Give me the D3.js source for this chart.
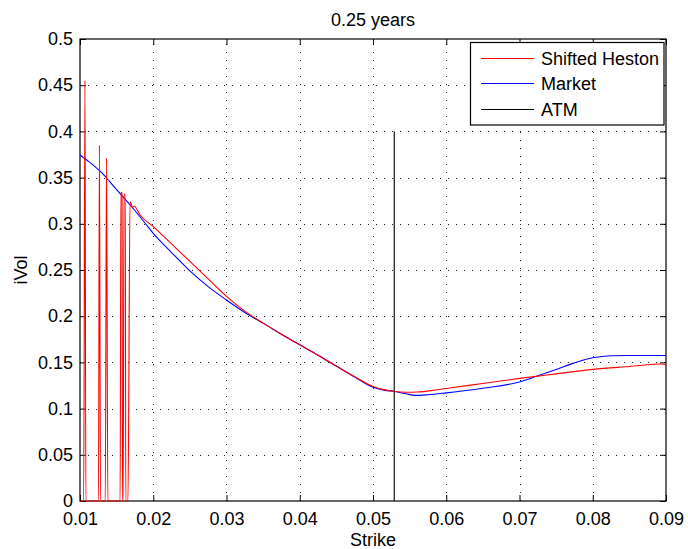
<!DOCTYPE html>
<html><head><meta charset="utf-8">
<script src="https://cdn.jsdelivr.net/npm/d3@7"></script>
<style>
body{margin:0;background:#fff}
svg{display:block}
text{font-family:"Liberation Sans",Arial,Helvetica,sans-serif}
</style>
</head><body>
<svg id="chart" width="688" height="549"></svg>
<script>
const titleText = "0.25 years";
const xLabelText = "Strike";
const yLabelText = "iVol";
const seriesNames = ["Shifted Heston", "Market", "ATM"];
const seriesColors = ["#ff0000", "#0000ff", "#000000"];

const xTicks = [0.01, 0.02, 0.03, 0.04, 0.05, 0.06, 0.07, 0.08, 0.09];
const xTickLabels = ["0.01", "0.02", "0.03", "0.04", "0.05", "0.06", "0.07", "0.08", "0.09"];
const yTicks = [0, 0.05, 0.1, 0.15, 0.2, 0.25, 0.3, 0.35, 0.4, 0.45, 0.5];
const yTickLabels = ["0", "0.05", "0.1", "0.15", "0.2", "0.25", "0.3", "0.35", "0.4", "0.45", "0.5"];

const hestonStrike = [0.0100, 0.0105, 0.01068, 0.0108, 0.01252, 0.01265, 0.0128, 0.01345, 0.01362, 0.0138,
  0.01548, 0.01558, 0.01574, 0.0158, 0.0159, 0.0160, 0.01618, 0.01625, 0.01655, 0.01683,
  0.01719, 0.01741, 0.0182, 0.0200, 0.0225, 0.0250, 0.0275, 0.0300, 0.0325, 0.0350,
  0.0375, 0.0400, 0.0425, 0.0450, 0.0475, 0.0500, 0.0515, 0.0530, 0.0545, 0.0560,
  0.0580, 0.0600, 0.0650, 0.0700, 0.0750, 0.0800, 0.0850, 0.0895, 0.0900];
const hestonVol = [0, 0, 0.455, 0, 0, 0.385, 0, 0, 0.371, 0,
  0, 0.334, 0.333, 0, 0, 0.332, 0.332, 0, 0, 0.324,
  0.318, 0.319, 0.3095, 0.297, 0.2782, 0.2593, 0.2405, 0.2215, 0.2055, 0.1925,
  0.1805, 0.1690, 0.1578, 0.1460, 0.1345, 0.1240, 0.1205, 0.1185, 0.1177, 0.1180,
  0.1195, 0.1218, 0.1272, 0.1327, 0.1376, 0.1424, 0.1455, 0.1482, 0.1465];

const marketStrike = [0.0100, 0.0110, 0.0120, 0.0130, 0.0140, 0.0150, 0.0160, 0.0170, 0.0180, 0.0190,
  0.0200, 0.0225, 0.0250, 0.0275, 0.0300, 0.0325, 0.0350, 0.0375, 0.0400, 0.0425,
  0.0450, 0.0475, 0.0500, 0.0515, 0.0530, 0.0545, 0.0558, 0.0575, 0.0600, 0.0650,
  0.0700, 0.0725, 0.0750, 0.0775, 0.0800, 0.0825, 0.0850, 0.0900];
const marketVol = [0.3745, 0.3685, 0.3622, 0.3550, 0.3462, 0.3370, 0.3280, 0.3190, 0.3095, 0.2995,
  0.2897, 0.2689, 0.2490, 0.2320, 0.2175, 0.2040, 0.1925, 0.1805, 0.1690, 0.1578,
  0.1460, 0.1342, 0.1232, 0.1200, 0.1185, 0.1160, 0.1143, 0.1150, 0.1170, 0.1220,
  0.1288, 0.1355, 0.1424, 0.1495, 0.1550, 0.1572, 0.1575, 0.1575];

const atmStrike = [0.0529, 0.0529];
const atmVol = [0, 0.4];

const W = 688, H = 549;
const plot = {left: 80, right: 666, top: 39, bottom: 501};

const svg = d3.select("#chart");
svg.append("rect").attr("width", W).attr("height", H).attr("fill", "#fff");

const x = d3.scaleLinear().domain([0.01, 0.09]).range([plot.left, plot.right]);
const y = d3.scaleLinear().domain([0, 0.5]).range([plot.bottom, plot.top]);

// grid
const grid = svg.append("g").attr("stroke", "#222").attr("stroke-width", 1).attr("stroke-dasharray", "1,7");
grid.selectAll("line.gx").data(xTicks.slice(1, -1)).enter().append("line")
  .attr("x1", d => Math.round(x(d)) + 0.5).attr("x2", d => Math.round(x(d)) + 0.5)
  .attr("y1", plot.bottom).attr("y2", plot.top);
grid.selectAll("line.gy").data(yTicks.slice(1, -1)).enter().append("line")
  .attr("y1", d => Math.round(y(d)) + 0.5).attr("y2", d => Math.round(y(d)) + 0.5)
  .attr("x1", plot.left).attr("x2", plot.right);

// axes
const fmtX = (d) => xTickLabels[xTicks.indexOf(d)];
const fmtY = (d) => yTickLabels[yTicks.indexOf(d)];

function styleAxis(g) {
  g.select(".domain").remove();
  g.selectAll(".tick line").attr("stroke", "#000").attr("stroke-width", 1);
  g.selectAll(".tick text").attr("fill", "#000").attr("font-size", 18)
    .attr("font-family", "'Liberation Sans', Arial, sans-serif");
}

svg.append("g").attr("transform", `translate(0,${plot.bottom})`)
  .call(d3.axisBottom(x).tickValues(xTicks).tickFormat(fmtX).tickSizeInner(-6).tickSizeOuter(0).tickPadding(11))
  .call(styleAxis);
svg.append("g").attr("transform", `translate(0,${plot.top})`)
  .call(d3.axisTop(x).tickValues(xTicks).tickFormat("").tickSizeInner(-6).tickSizeOuter(0))
  .call(styleAxis);
svg.append("g").attr("transform", `translate(${plot.left},0)`)
  .call(d3.axisLeft(y).tickValues(yTicks).tickFormat(fmtY).tickSizeInner(-6).tickSizeOuter(0).tickPadding(7))
  .call(styleAxis);
svg.append("g").attr("transform", `translate(${plot.right},0)`)
  .call(d3.axisRight(y).tickValues(yTicks).tickFormat("").tickSizeInner(-6).tickSizeOuter(0))
  .call(styleAxis);

// box
svg.append("rect")
  .attr("x", plot.left).attr("y", plot.top)
  .attr("width", plot.right - plot.left).attr("height", plot.bottom - plot.top)
  .attr("fill", "none").attr("stroke", "#000").attr("stroke-width", 1.2);

// series
const line = d3.line().x(d => x(d[0])).y(d => y(d[1]));
const smooth = d3.line().x(d => x(d[0])).y(d => y(d[1])).curve(d3.curveMonotoneX);

svg.append("path").datum(marketStrike.map((s, i) => [s, marketVol[i]]))
  .attr("d", smooth).attr("fill", "none").attr("stroke", seriesColors[1]).attr("stroke-width", 1.1);
svg.append("path").datum(hestonStrike.map((s, i) => [s, hestonVol[i]]))
  .attr("d", smooth).attr("fill", "none").attr("stroke", seriesColors[0]).attr("stroke-width", 1.1);
svg.append("path").datum(atmStrike.map((s, i) => [s, atmVol[i]]))
  .attr("d", line).attr("fill", "none").attr("stroke", seriesColors[2]).attr("stroke-width", 1.1);

// titles
svg.append("text").attr("x", (plot.left + plot.right) / 2).attr("y", 26)
  .attr("text-anchor", "middle").attr("font-size", 18).text(titleText);
svg.append("text").attr("x", (plot.left + plot.right) / 2).attr("y", 546)
  .attr("text-anchor", "middle").attr("font-size", 18).text(xLabelText);
svg.append("text").attr("transform", `translate(27,${(plot.top + plot.bottom) / 2}) rotate(-90)`)
  .attr("text-anchor", "middle").attr("font-size", 18).text(yLabelText);

// legend
const lg = svg.append("g");
lg.append("rect").attr("x", 470.5).attr("y", 42.5).attr("width", 193.5).attr("height", 82.5)
  .attr("fill", "#fff").attr("stroke", "#000").attr("stroke-width", 1.2);
const rowsY = [58.5, 83.5, 109.5];
seriesNames.forEach((name, i) => {
  lg.append("line").attr("x1", 481).attr("x2", 534).attr("y1", rowsY[i]).attr("y2", rowsY[i])
    .attr("stroke", seriesColors[i]).attr("stroke-width", 1.1);
  lg.append("text").attr("x", 541).attr("y", rowsY[i] + 6.5).attr("font-size", 18).text(name);
});
</script>
</body></html>
